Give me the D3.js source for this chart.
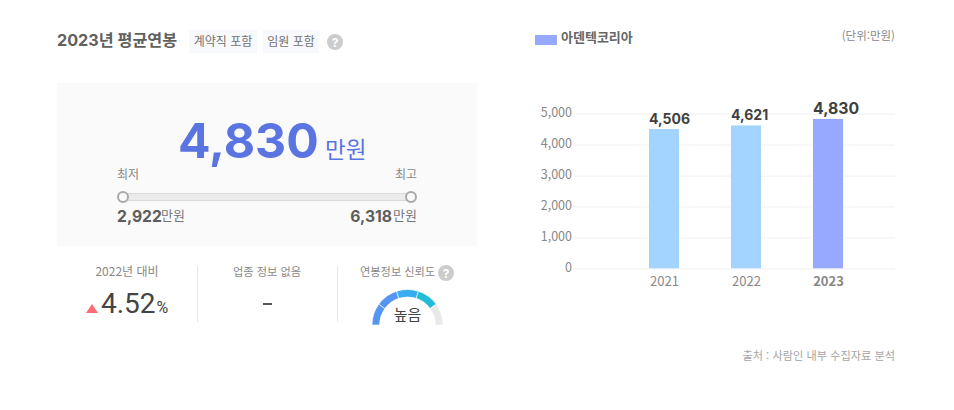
<!DOCTYPE html>
<html lang="ko"><head><meta charset="utf-8">
<script src="https://cdn.jsdelivr.net/npm/d3@7"></script>
<style>
html,body{margin:0;padding:0;background:#fff;overflow:hidden}
svg{display:block}
text{font-family:"Noto Sans CJK KR","Noto Sans",sans-serif}
.inter{font-family:Inter,"Noto Sans CJK KR",sans-serif}
.roboto{font-family:Roboto,"Noto Sans CJK KR",sans-serif}
</style></head><body><div id="c"></div>
<script>
const years = ["2021","2022","2023"];
const salaries = [4506,4621,4830];
const yTicks = [0,1000,2000,3000,4000,5000];
const legendLabel = "아덴텍코리아";
const unitLabel = "(단위:만원)";
const sourceLabel = "출처 : 사람인 내부 수집자료 분석";
const titleLabel = "2023년 평균연봉";
const tags = ["계약직 포함","임원 포함"];
const rangeValues = [2922,6318];
const rangeLabels = ["최저","최고"];
const gaugeSegments = [1,1,1,1,1];
const gaugeStops = [["#6f88f3","#5596f2"],["#5596f2","#3fa6f0"],["#38aef0","#2ab8ee"],["#20bcd8","#18c6bc"],["#e9e9e9","#e9e9e9"]];
const fmt = d3.format(",");

const svg = d3.select("#c").append("svg").attr("width",954).attr("height",410);
const T=(x,y,s,size,fill,anchor,weight,cls)=>svg.append("text").attr("x",x).attr("y",y).text(s)
  .attr("font-size",size).attr("fill",fill).attr("text-anchor",anchor||"start").attr("font-weight",weight||400).attr("class",cls||null);
const help=(cx,cy)=>{svg.append("circle").attr("cx",cx).attr("cy",cy).attr("r",8).attr("fill","#cccccc");
  T(cx,cy+4.5,"?",12,"#fff","middle",700,"inter");};

// header
T(57,45.5,titleLabel,16.2,"#606060","start",700,"inter");
[[189,68],[263,56]].forEach((b,i)=>{
  svg.append("rect").attr("x",b[0]).attr("y",30).attr("width",b[1]).attr("height",23).attr("fill","#f8f9fd");
  T(b[0]+b[1]/2,46,tags[i],12,"#707070","middle");
});
help(335,42);

// summary panel
svg.append("rect").attr("x",57).attr("y",83).attr("width",420).attr("height",163).attr("fill","#fafafa");
T(178,158,fmt(salaries[2]),48.2,"#5a74e2","start",700,"inter");
T(325,158,"만원",22.5,"#5a74e2");
T(117,179,rangeLabels[0],12,"#888");
T(417,179,rangeLabels[1],12,"#888","end");
const rangeX=d3.scaleLinear().domain(rangeValues).range([123,411]);
svg.append("rect").attr("x",rangeX(rangeValues[0])).attr("y",193.5).attr("width",rangeX(rangeValues[1])-rangeX(rangeValues[0])).attr("height",7)
  .attr("fill","#ebebeb").attr("stroke","#d9d9d9").attr("stroke-width",1);
rangeValues.forEach(v=>svg.append("circle").attr("cx",rangeX(v)).attr("cy",197).attr("r",5).attr("fill","#fafafa").attr("stroke","#a8a8a8").attr("stroke-width",2));
T(117,222,fmt(rangeValues[0]),15.7,"#5d5d5d","start",700,"inter");
T(161,220,"만원",13,"#777");
T(392,222,fmt(rangeValues[1]),15.7,"#5d5d5d","end",700,"inter");
T(417,220,"만원",13,"#777","end");

// bottom stats
T(127,276,"2022년 대비",12,"#888","middle");
svg.append("path").attr("d","M86 313L92 304L98 313Z").attr("fill","#ff6b75");
T(101,313,"4.52",28,"#444","start",400,"roboto");
T(156.5,313,"%",16,"#444","start",400,"roboto");
svg.append("line").attr("x1",197.5).attr("x2",197.5).attr("y1",266).attr("y2",322).attr("stroke","#e8e8e8");
T(267,276,"업종 정보 없음",11.2,"#888","middle");
svg.append("rect").attr("x",263).attr("y",303).attr("width",9).attr("height",2).attr("fill","#555");
svg.append("line").attr("x1",337.5).attr("x2",337.5).attr("y1",266).attr("y2",322).attr("stroke","#e8e8e8");
T(360,276,"연봉정보 신뢰도",11.2,"#888");
help(446,273);

// gauge
const pie=d3.pie().sort(null).startAngle(-Math.PI/2).endAngle(Math.PI/2);
const arc=d3.arc().innerRadius(28).outerRadius(35.5);
const defs=svg.append("defs");
const slices=pie(gaugeSegments);
const gx=407.5, gy=325;
const polar=a=>[gx+32*Math.sin(a),gy-32*Math.cos(a)];
slices.forEach((s,i)=>{
  const p0=polar(s.startAngle),p1=polar(s.endAngle);
  const g=defs.append("linearGradient").attr("id","seg"+i).attr("gradientUnits","userSpaceOnUse")
    .attr("x1",p0[0]).attr("y1",p0[1]).attr("x2",p1[0]).attr("y2",p1[1]);
  g.append("stop").attr("offset",0).attr("stop-color",gaugeStops[i][0]);
  g.append("stop").attr("offset",1).attr("stop-color",gaugeStops[i][1]);
});
svg.append("g").attr("transform",`translate(${gx},${gy})`).selectAll("path").data(slices).join("path")
  .attr("d",arc).attr("fill",(d,i)=>`url(#seg${i})`).attr("stroke","#fff").attr("stroke-width",0.6);
T(407.5,320,"높음",15,"#444","middle");

// legend
svg.append("rect").attr("x",535).attr("y",35).attr("width",22).attr("height",10).attr("fill","#97a9ff");
T(561,42,legendLabel,13,"#666","start",700);
T(895,40,unitLabel,11.5,"#888","end");

// bar chart
const x=d3.scaleBand().domain(years).range([623,869]).paddingInner(0.634).paddingOuter(0.317);
const y=d3.scaleLinear().domain([0,5000]).range([268.3,113.7]);
const gridG=svg.append("g").call(d3.axisLeft(y).tickValues(yTicks).tickFormat(fmt).tickSize(0).tickPadding(0)).attr("transform","translate(573,0)");
gridG.select(".domain").remove();
gridG.selectAll("line").attr("x2",322).attr("stroke","#f3f3f3").attr("stroke-width",1.2);
gridG.selectAll("text").attr("x",-1).attr("dy","0.22em").attr("font-size",12.5).attr("fill","#888").attr("font-family",'"Noto Sans CJK KR"');
svg.selectAll("rect.bar").data(salaries).join("rect").attr("class","bar")
  .attr("x",(d,i)=>x(years[i])).attr("width",x.bandwidth()).attr("y",d=>y(d)).attr("height",d=>y(0)-y(d))
  .attr("fill",(d,i)=>i===2?"#97a9ff":"#a3d3ff");
svg.selectAll("text.val").data(salaries).join("text").attr("class","val inter")
  .attr("x",(d,i)=>x(years[i])).attr("y",d=>y(d)-5)
  .attr("text-anchor","start").attr("font-weight",700).attr("fill","#3f3f3f")
  .attr("font-size",(d,i)=>i===2?15.8:14).text(fmt);
const xG=svg.append("g").attr("transform","translate(0.5,268)").call(d3.axisBottom(x).tickSize(0).tickPadding(0));
xG.select(".domain").remove();
xG.selectAll("text").attr("y",18).attr("dy",0).attr("font-size",13).attr("fill","#888").attr("font-family",'"Noto Sans CJK KR"')
  .attr("font-weight",(d,i)=>i===2?700:400);

T(895,360,sourceLabel,11.2,"#a5a5a5","end");
</script></body></html>
